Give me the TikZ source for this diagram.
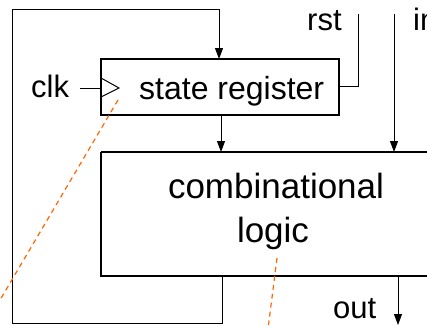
\documentclass[tikz,border=0pt]{standalone}
\usepackage{fontspec}
\setmainfont{Liberation Sans}
\usetikzlibrary{arrows.meta}
\begin{document}
\begin{tikzpicture}[x=1pt,y=-1pt,
  wire/.style={line width=1pt,draw=black},
  arr/.style={wire,-{Triangle[length=11pt,width=8pt]}},
  regbox/.style={line width=1.8pt},
  logicbox/.style={line width=2.4pt},
  lbl/.style={inner sep=0pt,anchor=base west,font=\fontsize{31}{36}\selectfont},
  big/.style={inner sep=0pt,anchor=base,font=\fontsize{35}{40}\selectfont},
  guide/.style={draw=orange!80!red,line width=1.2pt,dash pattern=on 5pt off 4pt}]
\useasboundingbox (0,0) rectangle (427,325);
% boxes
\draw[regbox] (101,59) rectangle (339,115);
\coordinate (regTop) at (219,59);
\coordinate (regBot) at (221,115);
\coordinate (regRight) at (339,86);
\coordinate (regClk) at (101,88);
\draw[logicbox] (101,152) -- (440,152);
\draw[logicbox] (440,276) -- (101,276) -- (101,152);
\coordinate (logTop) at (221,152);
\coordinate (logTopIn) at (394,152);
\coordinate (logBot) at (222,276);
\coordinate (logBotOut) at (398,276);
% clock triangle
\draw[wire] (101,78) -- (119,88) -- (101,97);
% texts
\node[lbl,font=\fontsize{32}{37}\selectfont] (st) at (139,99) {state register};
\node[big] (comb) at (276,198) {combinational};
\node[big] (logic) at (273,242) {logic};
\node[lbl] (clk) at (31,97) {clk};
\node[lbl] (rst) at (307,30) {rst};
\node[lbl] (in) at (413,30) {in};
\node[lbl] (out) at (333,318) {out};
% connectors
\coordinate (clkEnd) at (80,88);
\draw[wire] (clkEnd) -- (regClk);
\coordinate (rstTop) at (358,14);
\draw[wire] (rstTop) -- (358,86) -- (regRight);
\coordinate (inTop) at (394,14);
\draw[arr] (inTop) -- (logTopIn);
\draw[arr] (regBot) -- (logTop);
\coordinate (outEnd) at (398,325);
\draw[arr] (logBotOut) -- (outEnd);
\draw[arr] (logBot) -- (222,323) -- (12,323) -- (12,9) -- (219,9) -- (regTop);
% dashed guides
\coordinate (g1a) at (118,100);
\coordinate (g1b) at (0,300);
\draw[guide] (g1a) -- (g1b);
\coordinate (g2a) at (277,258);
\coordinate (g2b) at (268.5,325);
\draw[guide] (g2a) -- (g2b);
\end{tikzpicture}
\end{document}
